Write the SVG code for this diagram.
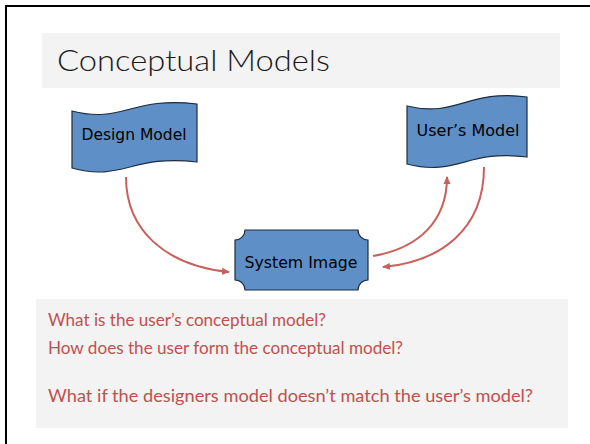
<svg xmlns="http://www.w3.org/2000/svg" width="590" height="444" viewBox="0 0 590 444">
  <style>
    .panel { fill: #f3f3f3; }
    .title { font-family: Lato, "Open Sans", "Liberation Sans", sans-serif; font-weight: 300; font-size: 30px; fill: #1a1a1a; }
    .question { font-family: Lato, "Open Sans", "Liberation Sans", sans-serif; font-size: 16.5px; fill: #c0504d; }
    .shape { fill: #5e8fc7; stroke: #1e2c3d; stroke-width: 1.2; }
    .label { font-family: "DejaVu Sans", "Liberation Sans", sans-serif; font-size: 15px; fill: #000; text-anchor: middle; }
    .flow { fill: none; stroke: #c9605c; stroke-width: 2; marker-end: url(#head); }
  </style>
  <defs>
    <marker id="head" markerUnits="userSpaceOnUse" markerWidth="9" markerHeight="8" refX="7" refY="4" orient="auto">
      <path d="M0,0.5 L8,4 L0,7.5 Z" fill="#c9605c"/>
    </marker>
  </defs>

  <!-- page -->
  <rect x="0" y="0" width="590" height="444" fill="#ffffff"/>
  <rect x="6" y="6" width="600" height="460" fill="none" stroke="#000" stroke-width="2"/>

  <!-- heading -->
  <g id="heading">
    <rect class="panel" x="42" y="33" width="518" height="55"/>
    <text class="title" x="57" y="71" textLength="273" lengthAdjust="spacingAndGlyphs">Conceptual Models</text>
  </g>

  <!-- connectors -->
  <g id="connectors">
    <path class="flow" d="M126,177 C126,232 168,266 229,272"/>
    <path class="flow" d="M373,256 C420,248 447,220 447,177"/>
    <path class="flow" d="M484,167 C484,230 440,262 383,267"/>
  </g>

  <g id="design-model">
    <path class="shape" d="M72,111 C122,124 132,96 197,104 L197,162 C132,154 122,182 72,168 Z"/>
    <text class="label" x="134" y="140" textLength="105" lengthAdjust="spacingAndGlyphs">Design Model</text>
  </g>

  <g id="users-model">
    <path class="shape" d="M407,106 C457,118 467,89 527,97 L527,157 C467,149 457,177 407,164 Z"/>
    <text class="label" x="468" y="136" textLength="103" lengthAdjust="spacingAndGlyphs">User’s Model</text>
  </g>

  <g id="system-image">
    <path class="shape" d="M245,230 H358 A10,10 0 0 0 368,240 V280 A10,10 0 0 0 358,290 H245 A10,10 0 0 0 235,280 V240 A10,10 0 0 0 245,230 Z"/>
    <text class="label" x="301" y="268" textLength="113" lengthAdjust="spacingAndGlyphs">System Image</text>
  </g>

  <!-- questions -->
  <g id="questions">
    <rect class="panel" x="36" y="299" width="532" height="129"/>
    <text class="question" x="48" y="326" textLength="278" lengthAdjust="spacingAndGlyphs">What is the user’s conceptual model?</text>
    <text class="question" x="48" y="354" textLength="355" lengthAdjust="spacingAndGlyphs">How does the user form the conceptual model?</text>
    <text class="question" x="48" y="402" textLength="485" lengthAdjust="spacingAndGlyphs">What if the designers model doesn’t match the user’s model?</text>
  </g>
</svg>
